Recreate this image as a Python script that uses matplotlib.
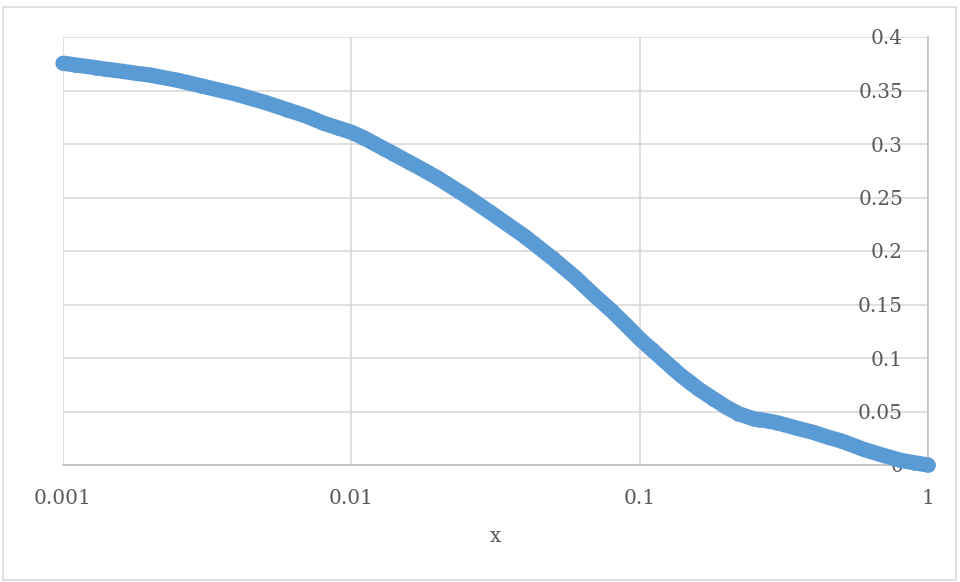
import matplotlib.pyplot as plt
from matplotlib.patches import Rectangle

# 그림에서 읽은 값 (x 로그축)
x_vals = [0.001, 0.0011, 0.0012, 0.0013, 0.0014, 0.0015, 0.0016, 0.0018, 0.002,
          0.0025, 0.003, 0.004, 0.005, 0.006, 0.007, 0.008, 0.009,
          0.01, 0.011, 0.012, 0.013, 0.014, 0.015, 0.016, 0.018, 0.02,
          0.025, 0.03, 0.04, 0.05, 0.06, 0.07, 0.08, 0.09,
          0.1, 0.11, 0.12, 0.13, 0.14, 0.15, 0.16, 0.18, 0.2, 0.22, 0.24,
          0.25, 0.26, 0.28, 0.3, 0.35, 0.4, 0.45, 0.5, 0.6, 0.7, 0.8, 0.9, 1.0]
y_vals = [0.3755, 0.374, 0.3726, 0.3713, 0.370, 0.369, 0.368, 0.366, 0.3645,
          0.3595, 0.3545, 0.3465, 0.339, 0.332, 0.326, 0.3195, 0.315,
          0.311, 0.306, 0.3005, 0.2955, 0.291, 0.2865, 0.2825, 0.275, 0.268,
          0.2515, 0.237, 0.2135, 0.193, 0.175, 0.158, 0.144, 0.1305,
          0.118, 0.108, 0.099, 0.0905, 0.083, 0.077, 0.071, 0.062, 0.054, 0.048, 0.0445,
          0.043, 0.0425, 0.041, 0.0395, 0.0345, 0.0305, 0.026, 0.0225, 0.0145, 0.009, 0.0045, 0.002, 0.0]

x_ticks = [0.001, 0.01, 0.1, 1]
x_tick_labels = ['0.001', '0.01', '0.1', '1']
y_ticks = [0, 0.05, 0.1, 0.15, 0.2, 0.25, 0.3, 0.35, 0.4]
y_tick_labels = ['0', '0.05', '0.1', '0.15', '0.2', '0.25', '0.3', '0.35', '0.4']

blue = '#5B9BD5'
grid_c = '#D9D9D9'
text_c = '#595959'

plt.rcParams['font.family'] = ['DejaVu Serif']

fig = plt.figure(figsize=(9.6, 5.82), dpi=100)
ax = fig.add_axes([63 / 960, 1 - 465 / 582, 865 / 960, 428 / 582])

# 바깥 테두리
fig.patches.append(Rectangle((3 / 960, 2 / 582), 953 / 960, 573 / 582, transform=fig.transFigure,
                             fill=False, edgecolor=grid_c, linewidth=1.2))

ax.plot(x_vals, y_vals, color=blue, linewidth=11, solid_capstyle='round', solid_joinstyle='round',
        marker='o', markersize=10.5, markeredgewidth=0, zorder=3, clip_on=False)

ax.set_xscale('log')
ax.set_xlim(0.001, 1)
ax.set_ylim(0, 0.4)
ax.set_xticks(x_ticks)
ax.set_xticklabels(x_tick_labels)
ax.minorticks_off()
ax.set_yticks(y_ticks)
ax.set_yticklabels(y_tick_labels)

ax.grid(True, color=grid_c, linewidth=1.2)
ax.set_axisbelow(True)

for s in ['top', 'left']:
    ax.spines[s].set_visible(False)
ax.spines['bottom'].set_color('#BFBFBF')
ax.spines['right'].set_color('#BFBFBF')
ax.spines['bottom'].set_linewidth(1.2)
ax.spines['right'].set_linewidth(1.2)

ax.tick_params(axis='x', length=0, pad=17, labelsize=14.5, labelcolor=text_c)
ax.tick_params(axis='y', left=False, labelleft=False, right=False, labelright=True,
               length=0, pad=-18, labelsize=14.5, labelcolor=text_c)
for lab in ax.get_yticklabels():
    lab.set_horizontalalignment('right')

ax.set_xlabel('x', fontsize=14.5, color=text_c, labelpad=14)

fig.savefig('out.png', dpi=100)
